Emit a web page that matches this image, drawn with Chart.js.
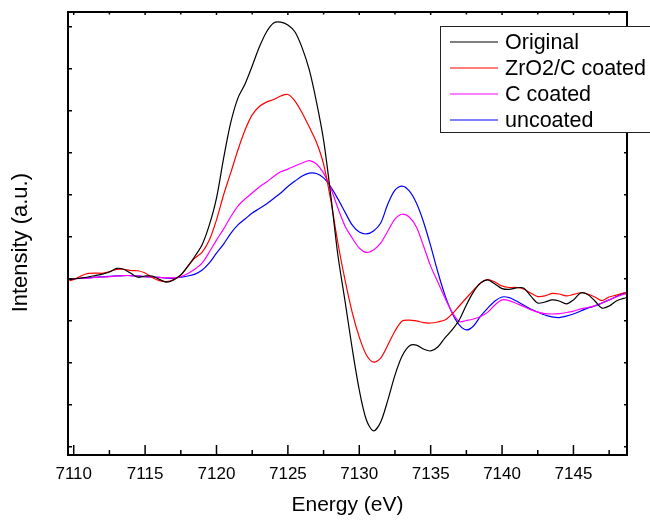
<!DOCTYPE html>
<html><head><meta charset="utf-8">
<script src="https://cdn.jsdelivr.net/npm/chart.js@4.4.0/dist/chart.umd.min.js"></script>
<style>html,body{margin:0;padding:0;background:#fff}</style>
</head><body>
<canvas id="c" width="650" height="520" style="display:block;width:650px;height:520px"></canvas>
<script>
// Energy (eV)
const energy = [7109.7,
 7110,7110.5,7111,7111.5,7112,7112.5,7113,7113.5,7114,7114.5,
 7115,7115.5,7116,7116.5,7117,7117.5,7118,7118.5,7119,7119.5,
 7120,7120.5,7121,7121.5,7122,7122.5,7123,7123.5,7124,7124.5,
 7125,7125.5,7126,7126.5,7127,7127.5,7128,7128.5,7129,7129.5,
 7130,7130.5,7131,7131.5,7132,7132.5,7133,7133.5,7134,7134.5,
 7135,7135.5,7136,7136.5,7137,7137.5,7138,7138.5,7139,7139.5,
 7140,7140.5,7141,7141.5,7142,7142.5,7143,7143.5,7144,7144.5,
 7145,7145.5,7146,7146.5,7147,7147.5,7148,7148.5,7148.75];

const original = [-0.004,
 -0.001,0.003,0.008,0.015,0.022,0.032,0.049,0.045,0.026,0.007,
 0.013,0.013,-0.003,-0.016,-0.006,0.018,0.060,0.108,0.163,0.256,
 0.384,0.574,0.744,0.860,0.927,1.013,1.103,1.175,1.218,1.222,
 1.208,1.175,1.099,0.994,0.842,0.660,0.400,0.113,-0.106,-0.330,
 -0.530,-0.673,-0.725,-0.682,-0.578,-0.459,-0.368,-0.320,-0.316,-0.335,
 -0.344,-0.325,-0.282,-0.244,-0.197,-0.125,-0.063,-0.020,-0.006,-0.025,
 -0.047,-0.051,-0.044,-0.044,-0.082,-0.116,-0.111,-0.101,-0.106,-0.120,
 -0.101,-0.068,-0.075,-0.106,-0.140,-0.130,-0.106,-0.094,-0.089];

const zro2cCoated = [-0.009,
 -0.004,0.013,0.025,0.027,0.026,0.034,0.044,0.045,0.039,0.038,
 0.027,0.006,-0.009,-0.014,-0.004,0.018,0.060,0.099,0.127,0.184,
 0.280,0.400,0.505,0.613,0.708,0.780,0.820,0.841,0.853,0.870,
 0.877,0.846,0.789,0.722,0.650,0.546,0.375,0.170,-0.006,-0.159,
 -0.278,-0.363,-0.397,-0.378,-0.316,-0.249,-0.201,-0.197,-0.201,-0.209,
 -0.211,-0.206,-0.197,-0.168,-0.130,-0.092,-0.054,-0.020,-0.004,-0.016,
 -0.035,-0.042,-0.042,-0.049,-0.068,-0.085,-0.082,-0.070,-0.073,-0.082,
 -0.075,-0.067,-0.073,-0.087,-0.104,-0.087,-0.078,-0.068,-0.067];

const cCoated = [-0.001,
 0.000,0.002,0.003,0.006,0.008,0.010,0.013,0.015,0.015,0.013,
 0.010,0.008,0.006,0.004,0.004,0.010,0.025,0.046,0.075,0.127,
 0.184,0.237,0.295,0.346,0.380,0.408,0.437,0.460,0.487,0.509,
 0.522,0.537,0.551,0.562,0.546,0.503,0.432,0.337,0.251,0.194,
 0.146,0.125,0.137,0.169,0.227,0.284,0.307,0.294,0.246,0.156,
 0.060,-0.016,-0.092,-0.159,-0.204,-0.199,-0.192,-0.180,-0.159,-0.125,
 -0.101,-0.104,-0.118,-0.132,-0.147,-0.159,-0.166,-0.168,-0.166,-0.161,
 -0.154,-0.144,-0.137,-0.128,-0.116,-0.101,-0.087,-0.075,-0.070];

const uncoated = [-0.001,
 0.000,0.002,0.004,0.007,0.009,0.011,0.013,0.015,0.015,0.013,
 0.010,0.008,0.006,0.003,0.002,0.007,0.013,0.022,0.041,0.075,
 0.122,0.165,0.216,0.256,0.284,0.313,0.334,0.356,0.382,0.408,
 0.439,0.465,0.489,0.503,0.501,0.480,0.437,0.380,0.317,0.256,
 0.222,0.213,0.227,0.265,0.356,0.422,0.441,0.418,0.360,0.270,
 0.156,0.032,-0.078,-0.163,-0.220,-0.244,-0.225,-0.178,-0.140,-0.106,
 -0.087,-0.090,-0.106,-0.125,-0.144,-0.159,-0.173,-0.182,-0.185,-0.178,
 -0.168,-0.154,-0.140,-0.130,-0.116,-0.101,-0.085,-0.070,-0.067];

const seriesNames = ['Original', 'ZrO2/C coated', 'C coated', 'uncoated'];
const seriesColors = ['#000000', '#ff0000', '#ff00ff', '#0000ff'];
const xMajorTicks = [7110, 7115, 7120, 7125, 7130, 7135, 7140, 7145];
const xMinorTicks = [7112.5, 7117.5, 7122.5, 7127.5, 7132.5, 7137.5, 7142.5, 7147.5];
const yTicks = [-0.8, -0.6, -0.4, -0.2, 0, 0.2, 0.4, 0.6, 0.8, 1.0, 1.2];
const xRange = [7109.6, 7148.75];
const yRange = [-0.8395, 1.27];
const xTitle = 'Energy (eV)';
const yTitle = 'Intensity (a.u.)';

const FONT = "'Liberation Sans', Arial, Helvetica, sans-serif";
const seriesValues = [original, zro2cCoated, cCoated, uncoated];

const frameAndTicks = {
  id: 'frameAndTicks',
  afterDatasetsDraw(chart) {
    const { ctx, chartArea: a, scales: { x, y } } = chart;
    ctx.save();
    ctx.strokeStyle = '#000';
    ctx.lineWidth = 1.5;
    ctx.beginPath();
    xMajorTicks.forEach(v => {
      const p = x.getPixelForValue(v);
      ctx.moveTo(p, a.bottom); ctx.lineTo(p, a.bottom - 10);
      ctx.moveTo(p, a.top); ctx.lineTo(p, a.top + 3);
    });
    xMinorTicks.forEach(v => {
      const p = x.getPixelForValue(v);
      ctx.moveTo(p, a.bottom); ctx.lineTo(p, a.bottom - 5);
      ctx.moveTo(p, a.top); ctx.lineTo(p, a.top + 2.5);
    });
    yTicks.forEach(v => {
      const p = y.getPixelForValue(v);
      ctx.moveTo(a.left, p); ctx.lineTo(a.left + 4, p);
      ctx.moveTo(a.right, p); ctx.lineTo(a.right - 3, p);
    });
    ctx.stroke();
    ctx.lineWidth = 2;
    ctx.strokeRect(a.left, a.top, a.right - a.left, a.bottom - a.top);
    ctx.restore();
  }
};

const boxLegend = {
  id: 'boxLegend',
  afterDraw(chart) {
    const ctx = chart.ctx;
    const bx = 440, by = 26, bw = 240, bh = 106;
    ctx.save();
    ctx.fillStyle = '#fff';
    ctx.fillRect(bx, by, bw, bh);
    ctx.strokeStyle = '#222';
    ctx.lineWidth = 1;
    ctx.strokeRect(bx + 0.5, by + 0.5, bw, bh);
    ctx.font = '21.5px ' + FONT;
    ctx.textBaseline = 'middle';
    ctx.textAlign = 'left';
    chart.data.datasets.forEach((ds, i) => {
      const ry = 42 + i * 26;
      ctx.strokeStyle = ds.borderColor;
      ctx.lineWidth = 1.2;
      ctx.beginPath();
      ctx.moveTo(450, ry); ctx.lineTo(498, ry);
      ctx.stroke();
      ctx.fillStyle = '#000';
      ctx.fillText(ds.label, 505, ry + 1);
    });
    ctx.restore();
  }
};

new Chart(document.getElementById('c'), {
  type: 'line',
  data: {
    datasets: seriesNames.map((name, i) => ({
      label: name,
      data: seriesValues[i].map((v, k) => ({ x: energy[k], y: v })),
      borderColor: seriesColors[i],
      backgroundColor: seriesColors[i],
      borderWidth: 1.2,
      pointRadius: 0,
      fill: false,
      tension: 0.3
    }))
  },
  options: {
    responsive: false,
    animation: false,
    devicePixelRatio: 1,
    layout: { padding: { top: 12, right: 23, left: 0, bottom: 0 } },
    plugins: { legend: { display: false }, tooltip: { enabled: false } },
    scales: {
      x: {
        type: 'linear',
        min: xRange[0], max: xRange[1],
        grid: { display: false },
        border: { display: false },
        afterBuildTicks: s => { s.ticks = xMajorTicks.map(v => ({ value: v })); },
        afterFit: s => { s.height = 65; },
        ticks: {
          color: '#000',
          font: { family: FONT, size: 17 },
          padding: 1,
          maxRotation: 0,
          autoSkip: false,
          callback: v => String(v)
        },
        title: {
          display: true, text: xTitle, color: '#000',
          font: { family: FONT, size: 21 },
          padding: { top: 0, bottom: 2 }
        }
      },
      y: {
        type: 'linear',
        min: yRange[0], max: yRange[1],
        grid: { display: false },
        border: { display: false },
        afterBuildTicks: s => { s.ticks = yTicks.map(v => ({ value: v })); },
        afterFit: s => { s.width = 68; },
        ticks: { display: false },
        title: {
          display: true, text: yTitle + '   ', color: '#000',
          font: { family: FONT, size: 22 },
          padding: { top: 8, bottom: 0 }
        }
      }
    }
  },
  plugins: [frameAndTicks, boxLegend]
});
</script>
</body></html>
